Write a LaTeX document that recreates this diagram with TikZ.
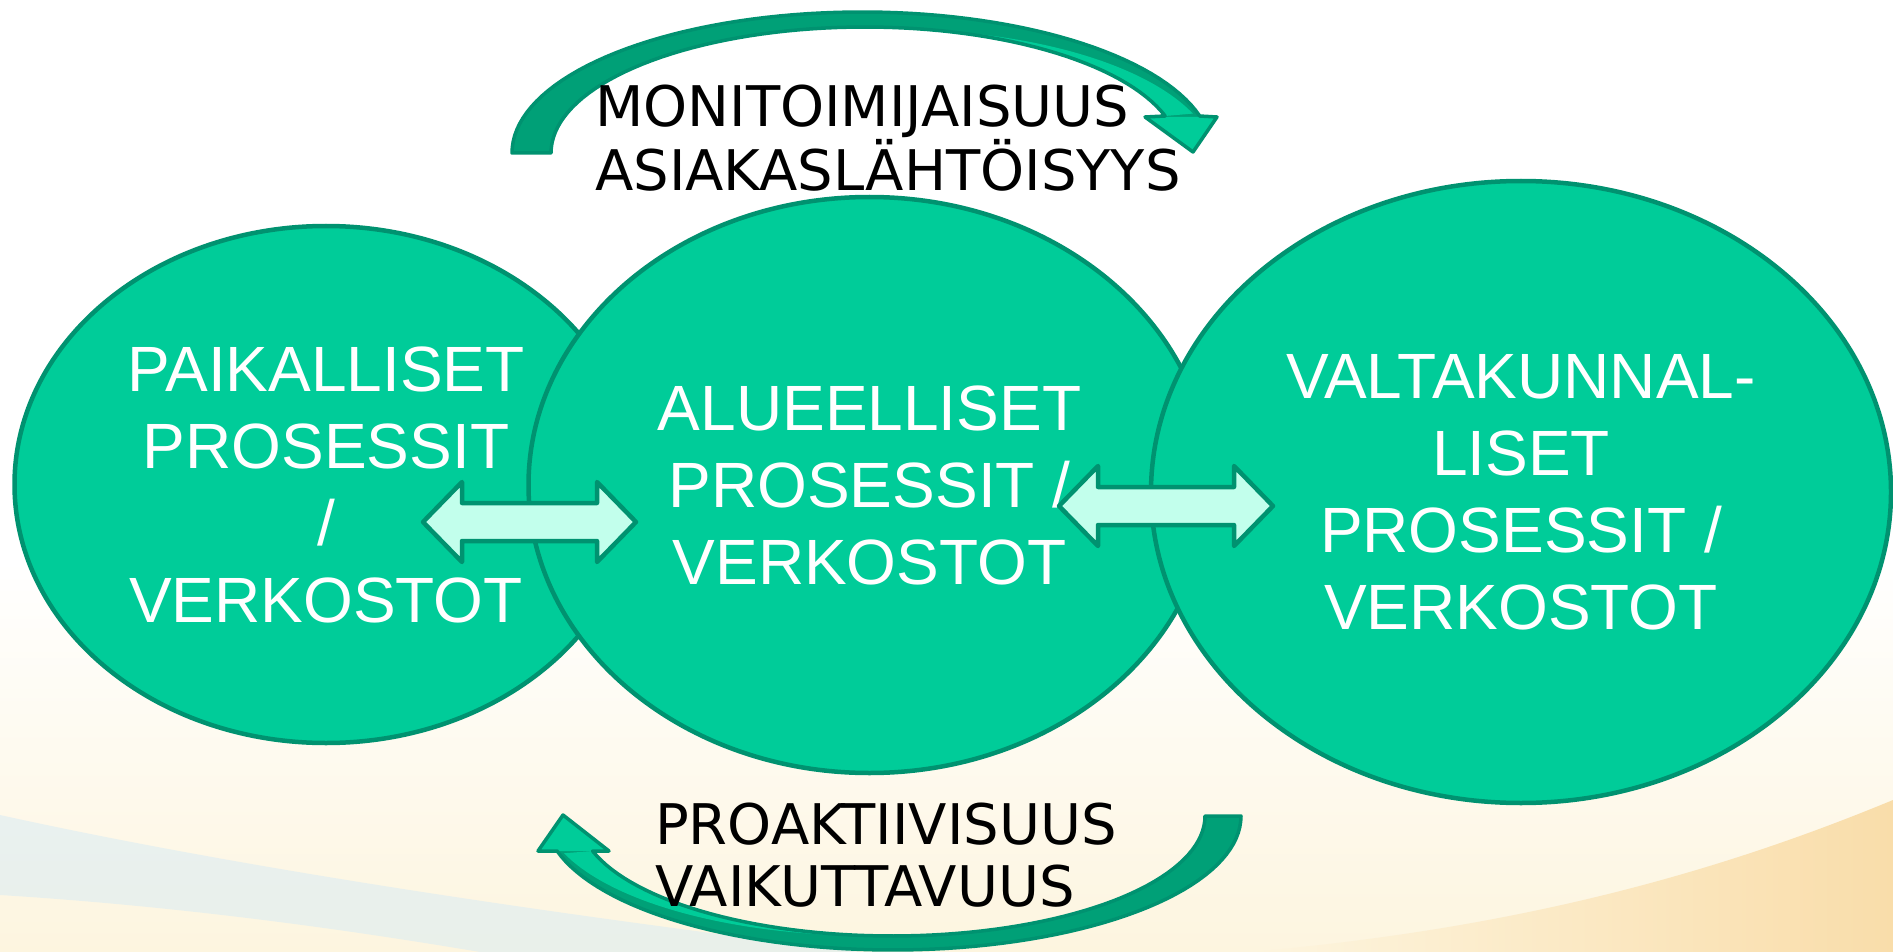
\documentclass[tikz,border=0pt]{standalone}
\usepackage{fontspec}
\setmainfont{Liberation Sans}
\newfontfamily\dvfont{DejaVu Sans}
\usetikzlibrary{shapes.geometric}
\definecolor{ellfill}{HTML}{00CC99}
\definecolor{ellline}{HTML}{009270}
\definecolor{arrdark}{HTML}{00A077}
\definecolor{arrlight}{HTML}{C2FFEC}
\definecolor{cream}{HTML}{FDF5DF}
\definecolor{peach}{HTML}{F9DDAA}
\definecolor{skyblue}{HTML}{D9ECF4}
\begin{document}
\begin{tikzpicture}[x=1pt,y=-1pt,
  ell/.style={ellipse, draw=ellline, fill=ellfill, line width=4.5pt, inner sep=0pt,
    text=white, align=center, font=\fontsize{64}{77}\selectfont},
  blockarrow/.style={draw=ellline, fill=arrlight, line width=4.5pt, line join=round},
  curveline/.style={draw=ellline, line width=3.5pt, line join=round},
  labeltext/.style={text=black, align=left, inner sep=0pt, anchor=north west,
    font=\dvfont\fontsize{56}{62}\selectfont}]
% background
\fill[white] (0,0) rectangle (1893,952);
\useasboundingbox (0,0) rectangle (1893,952);
\shade[top color=white, bottom color=cream] (0,560) rectangle (1893,952);
\fill[skyblue, opacity=0.55] (0,815) .. controls (250,870) and (560,915) .. (860,952) -- (480,952) .. controls (320,925) and (160,905) .. (0,895) -- cycle;
\shade[left color=cream, right color=peach] (1250,952) .. controls (1500,930) and (1700,880) .. (1893,800) -- (1893,952) -- cycle;

% ellipses
\node[ell, minimum width=623pt, minimum height=517pt] (left) at (326,484.5) {PAIKALLISET\\PROSESSIT\\/\\VERKOSTOT};
\node[ell, minimum width=682pt, minimum height=576pt] (mid) at (869.5,485) {ALUEELLISET\\PROSESSIT /\\VERKOSTOT};
\node[ell, minimum width=740pt, minimum height=622pt] (right) at (1521,492) {VALTAKUNNAL-\\LISET\\PROSESSIT /\\VERKOSTOT};

% double arrows
\draw[blockarrow] (423,522) -- (462,482) -- (462,503) -- (597,503) -- (597,482) -- (636,522) -- (597,562) -- (597,541) -- (462,541) -- (462,562) -- cycle;
\draw[blockarrow] (1059,506) -- (1098,466) -- (1098,487) -- (1234,487) -- (1234,466) -- (1273,506) -- (1234,546) -- (1234,525) -- (1098,525) -- (1098,546) -- cycle;

% top curved arrow
\fill[arrdark] plot[domain=180:344.79, samples=70, variable=\t] ({862+350*cos(\t)},{153+141*sin(\t)}) -- (1217,117) -- (1193,152) -- (1145,117) -- plot[domain=342.92:180, samples=70, variable=\t] ({865+314*cos(\t)},{153+126*sin(\t)}) -- cycle;
\fill[ellfill] plot[domain=285:342.92, samples=40, variable=\t] ({865+314*cos(\t)},{153+126*sin(\t)}) -- plot[domain=343.5:285, samples=40, variable=\t] ({865+314*cos(\t)+0.85*(\t-285)/58.5*(-3+36*cos(\t))},{153+126*sin(\t)+0.85*(\t-285)/58.5*(15*sin(\t))}) -- cycle;
\fill[ellfill] (1145,117) -- (1217,117) -- (1193,152) -- cycle;
\draw[curveline] plot[domain=180:344.79, samples=70, variable=\t] ({862+350*cos(\t)},{153+141*sin(\t)}) -- (1217,117) -- (1193,152) -- (1145,117) -- plot[domain=342.92:180, samples=70, variable=\t] ({865+314*cos(\t)},{153+126*sin(\t)}) -- cycle;

% bottom curved arrow
\fill[arrdark] plot[domain=0:164.86, samples=70, variable=\t] ({893+348*cos(\t)},{816+134*sin(\t)}) -- (538,851) -- (563,815) -- (609,851) -- plot[domain=163.04:0, samples=70, variable=\t] ({892+313*cos(\t)},{816+120*sin(\t)}) -- cycle;
\fill[ellfill] plot[domain=95:163.04, samples=40, variable=\t] ({892+313*cos(\t)},{816+120*sin(\t)}) -- plot[domain=163.6:95, samples=40, variable=\t] ({892+313*cos(\t)+0.85*(\t-95)/68.6*(1+35*cos(\t))},{816+120*sin(\t)+0.85*(\t-95)/68.6*(14*sin(\t))}) -- cycle;
\fill[ellfill] (538,851) -- (563,815) -- (609,851) -- cycle;
\draw[curveline] plot[domain=0:164.86, samples=70, variable=\t] ({893+348*cos(\t)},{816+134*sin(\t)}) -- (538,851) -- (563,815) -- (609,851) -- plot[domain=163.04:0, samples=70, variable=\t] ({892+313*cos(\t)},{816+120*sin(\t)}) -- cycle;

% labels
\node[labeltext] (toplabel) at (595,85) {MONITOIMIJAISUUS\\ASIAKASLÄHTÖISYYS};
\node[labeltext] (botlabel) at (655,803) {PROAKTIIVISUUS\\VAIKUTTAVUUS};
\end{tikzpicture}
\end{document}
